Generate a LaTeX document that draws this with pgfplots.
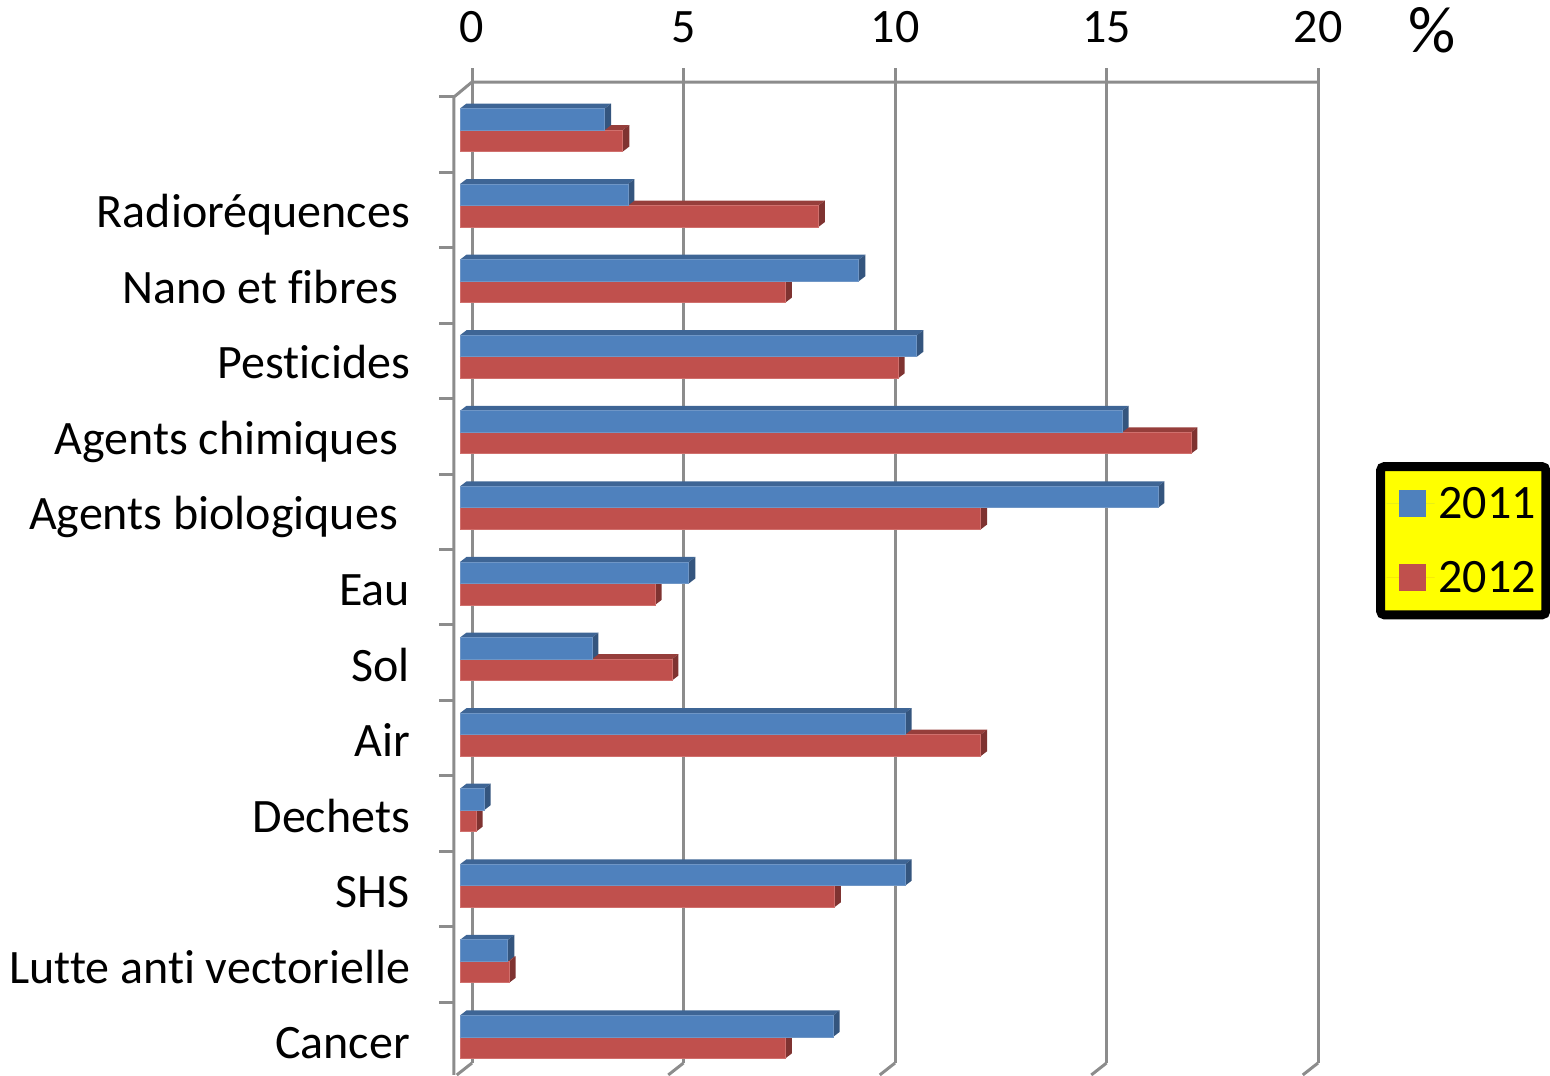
\documentclass[border=0pt]{standalone}
\usepackage{fontspec}
\setmainfont{Carlito}[Ligatures={NoCommon}]
\usepackage{pgfplots}
\pgfplotsset{compat=1.18}
\definecolor{gridgray}{HTML}{8C8C8C}
\definecolor{bluefront}{HTML}{4F81BD}
\definecolor{bluetop}{HTML}{3E6595}
\definecolor{blueside}{HTML}{34557E}
\definecolor{blueedge}{HTML}{6F96C6}
\definecolor{redfront}{HTML}{C0504D}
\definecolor{redtop}{HTML}{963E3B}
\definecolor{redside}{HTML}{7F3331}
\definecolor{rededge}{HTML}{D0706D}
\definecolor{legendyellow}{HTML}{FFFF00}
% one bar: row, value, colours. 3d look is just 3 polygons
\newcommand{\onebar}[8]{%
  \pgfmathsetmacro\xa{-0.284}%
  \pgfmathsetmacro\xb{#2-0.284}%
  \pgfmathsetmacro\xc{#2-0.284+0.154}%
  \pgfmathsetmacro\xd{-0.284+0.154}%
  \pgfmathsetmacro\ya{#1+#3}%
  \pgfmathsetmacro\yb{#1+#4}%
  \pgfmathsetmacro\yc{#1+#3-0.066}%
  \pgfmathsetmacro\yd{#1+#4-0.066}%
  \edef\tmp{\noexpand\addplot[forget plot,fill=#6,draw=none] coordinates {(\xa,\ya) (\xd,\yc) (\xc,\yc) (\xb,\ya)} -- cycle;
    \noexpand\addplot[forget plot,fill=#7,draw=none] coordinates {(\xb,\ya) (\xc,\yc) (\xc,\yd) (\xb,\yb)} -- cycle;
    \noexpand\addplot[forget plot,fill=#5,draw=#8,line width=0.4pt] coordinates {(\xa,\ya) (\xb,\ya) (\xb,\yb) (\xa,\yb)} -- cycle;}%
  \tmp}
\newcommand{\barpair}[3]{%
  \onebar{#1}{#3}{0}{0.2845}{redfront}{redtop}{redside}{rededge}%
  \onebar{#1}{#2}{-0.2845}{0}{bluefront}{bluetop}{blueside}{blueedge}}
\newcommand{\pad}{\rule{6pt}{0pt}}
\begin{document}
\begin{tikzpicture}
\useasboundingbox (0,0) rectangle (775pt,537.5pt);
\begin{axis}[
  at={(236pt,6pt)}, anchor=south west,
  scale only axis, width=423pt, height=490.5pt,
  xmin=0, xmax=20, ymin=-0.635, ymax=12.345,
  y dir=reverse, clip=false,
  axis line style={draw=none},
  xtick={0,5,10,15,20},
  xtick pos=upper, xticklabel pos=upper,
  xmajorgrids, grid style={gridgray,line width=1.5pt},
  xtick style={draw=gridgray,line width=1.5pt},
  tick align=outside, major tick length=7pt,
  tick label style={font=\fontsize{24}{28}\selectfont},
  /pgf/number format/assume math mode=true,
  xticklabel style={yshift=9pt},
  ytick={1,...,12},
  yticklabels={Radioréquences,Nano et fibres\pad,Pesticides,Agents chimiques\pad,Agents biologiques\pad,Eau,Sol,Air,Dechets,SHS,Lutte anti vectorielle,Cancer},
  ytick style={draw=none},
  yticklabel style={anchor=east,xshift=-20.5pt,yshift=-5pt,text height=17pt,text depth=5pt},
  legend style={at={(1.0686,0.6126)},anchor=north west,fill=legendyellow,draw=black,
    line width=4.5pt,rounded corners=2pt,inner xsep=3pt,inner ysep=8.5pt,
    row sep=17pt,font=\fontsize{24}{28}\selectfont,
    text depth=0pt,
    /tikz/every even column/.append style={column sep=2pt}},
  legend cell align=left,
  legend image code/.code={\path (0pt,0pt) -- (24pt,0pt);\fill[sharp corners,#1] (6pt,-6.75pt) rectangle (19.5pt,6.75pt);},
]
% top edge, left wall, corner and floor lines
\addplot[forget plot,gridgray,line width=1.5pt] coordinates {(-0.426,12.503) (-0.426,-0.437) (0,-0.635) (20,-0.635)};
\addplot[forget plot,gridgray,line width=1.5pt] coordinates {(0,12.345) (-0.36,12.503)};
\addplot[forget plot,gridgray,line width=1.5pt] coordinates {(5,12.345) (4.64,12.503)};
\addplot[forget plot,gridgray,line width=1.5pt] coordinates {(10,12.345) (9.64,12.503)};
\addplot[forget plot,gridgray,line width=1.5pt] coordinates {(15,12.345) (14.64,12.503)};
\addplot[forget plot,gridgray,line width=1.5pt] coordinates {(20,12.345) (19.64,12.503)};
% little ticks on the left wall
\pgfplotsinvokeforeach{-0.437,0.561,1.559,2.557,3.555,4.553,5.551,6.549,7.547,8.545,9.543,10.541,11.539}{
  \addplot[forget plot,gridgray,line width=1.5pt] coordinates {(-0.78,#1) (-0.426,#1)};
}
% row, 2011, 2012
\barpair{0}{3.42}{3.85}
\barpair{1}{3.97}{8.47}
\barpair{2}{9.43}{7.69}
\barpair{3}{10.80}{10.36}
\barpair{4}{15.65}{17.28}
\barpair{5}{16.50}{12.31}
\barpair{6}{5.41}{4.61}
\barpair{7}{3.12}{5.01}
\barpair{8}{10.52}{12.31}
\barpair{9}{0.57}{0.38}
\barpair{10}{10.52}{8.85}
\barpair{11}{1.13}{1.16}
\barpair{12}{8.82}{7.69}
\addlegendimage{fill=bluefront,draw=none}
\addlegendentry{\raisebox{-1pt}{2011}}
\addlegendimage{fill=redfront,draw=none}
\addlegendentry{\raisebox{-1pt}{2012}}
\node[font=\fontsize{33}{36}\selectfont] at (axis cs:22.7,-1.32) {\%};
\end{axis}
\end{tikzpicture}
\end{document}
